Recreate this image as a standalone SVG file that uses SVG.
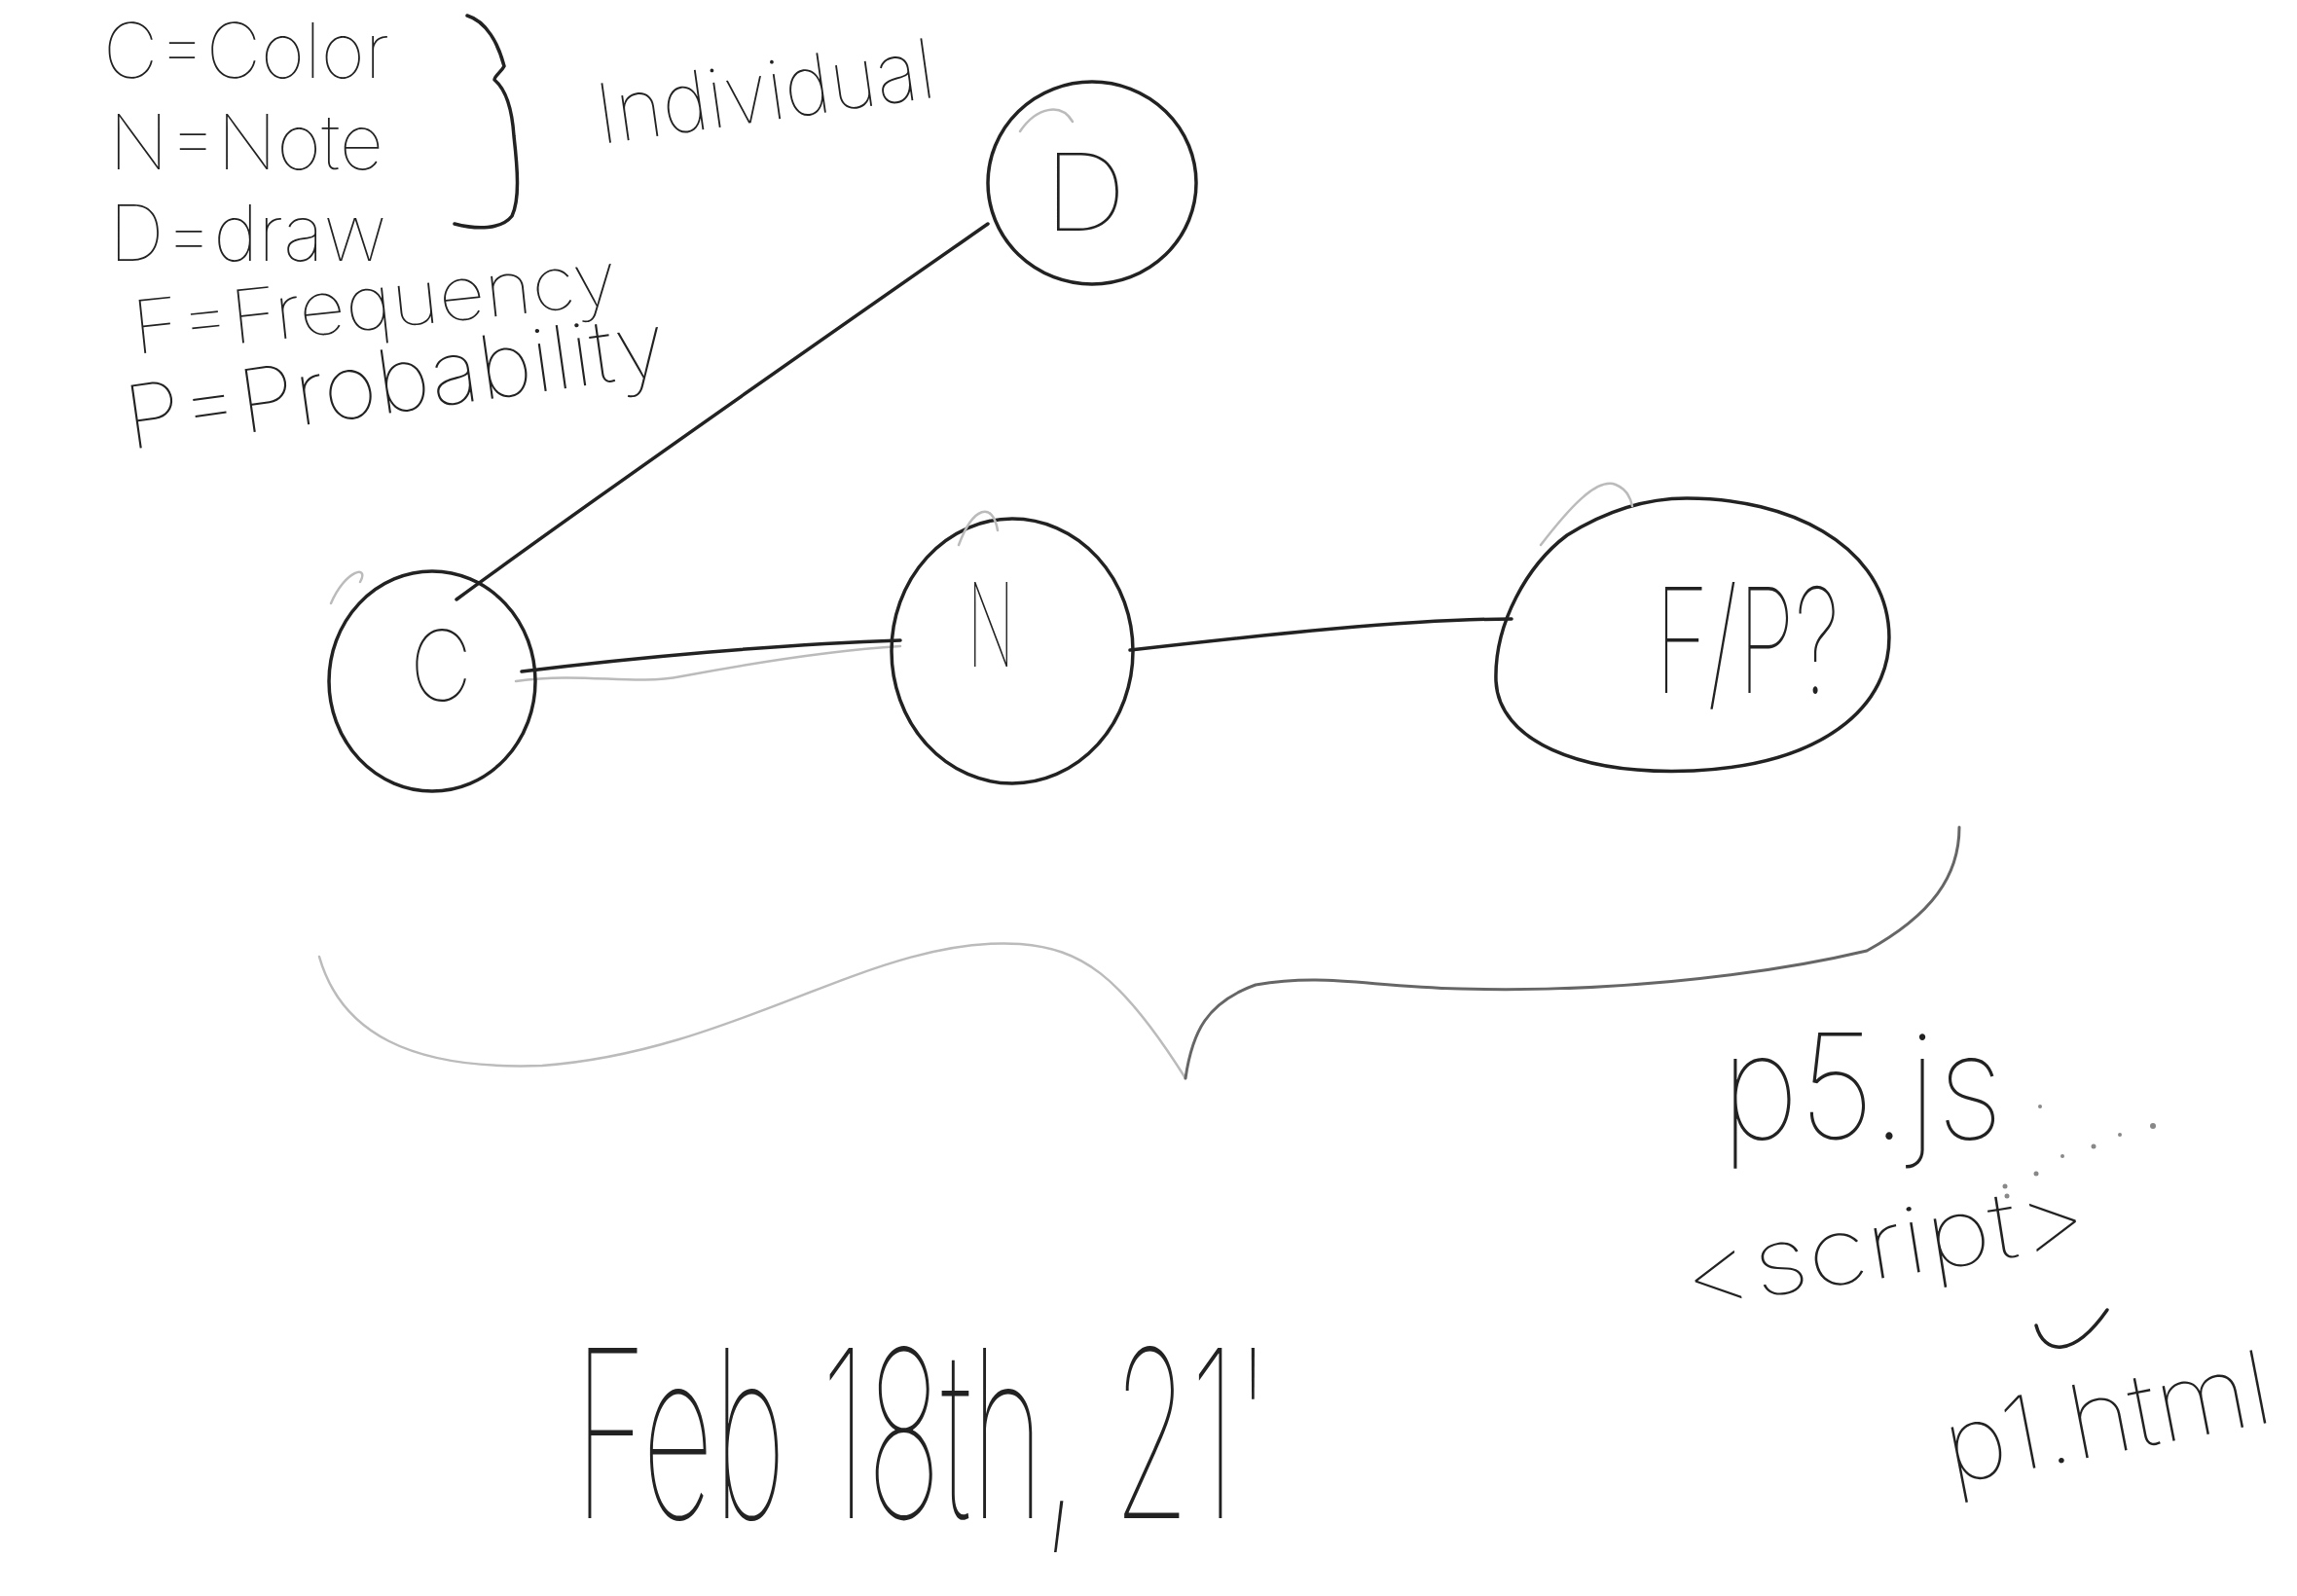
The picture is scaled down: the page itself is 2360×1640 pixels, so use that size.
<svg xmlns="http://www.w3.org/2000/svg" width="2360" height="1640" viewBox="0 0 2360 1640">
<style>
.ink{fill:none;stroke:#222;stroke-width:3.5;stroke-linecap:round;stroke-linejoin:round}
.faint{fill:none;stroke:#bbb;stroke-width:2.5;stroke-linecap:round}
.mid{fill:none;stroke:#666;stroke-width:3;stroke-linecap:round}
.hw{font-family:Inter,"Liberation Sans",sans-serif;font-weight:100;fill:#222}
</style>
<rect width="2360" height="1640" fill="#fff"/>
<g id="legend">
<text class="hw" x="106" y="80" font-size="78" textLength="294" lengthAdjust="spacingAndGlyphs">C=Color</text>
<text class="hw" x="112" y="174" font-size="78" textLength="282" lengthAdjust="spacingAndGlyphs">N=Note</text>
<text class="hw" x="112" y="268" font-size="80" textLength="285" lengthAdjust="spacingAndGlyphs">D=draw</text>
<text class="hw" x="139" y="364" font-size="76" textLength="500" lengthAdjust="spacingAndGlyphs" transform="rotate(-6 139 364)">F=Frequency</text>
<text class="hw" x="133" y="462" font-size="90" textLength="560" lengthAdjust="spacingAndGlyphs" transform="rotate(-8 133 462)">P=Probability</text>
<path class="ink" d="M480,16 C500,22 512,45 518,68 C515,74 508,78 508,82 C520,92 526,110 528,140 C532,175 534,205 526,222 C515,236 490,236 467,230"/>
<text class="hw" x="617" y="148" font-size="85" fill="#333" textLength="350" lengthAdjust="spacingAndGlyphs" transform="rotate(-8 617 148)">Individual</text>
</g>
<g id="connectors">
<path class="ink" d="M469,616 C620,505 850,345 1015,230"/>
<path class="ink" d="M536,690 C650,676 800,662 925,658"/>
<path class="faint" d="M530,700 C600,690 650,705 700,695 C780,680 860,668 925,664"/>
<path class="ink" d="M1161,668 C1300,652 1450,636 1553,636"/>
</g>
<g id="node-D">
<ellipse class="ink" cx="1122" cy="188" rx="107" ry="104"/>
<path class="faint" d="M1048,135 C1065,110 1090,105 1102,125"/>
<text class="hw" x="1115" y="237" font-size="110" text-anchor="middle" textLength="85" lengthAdjust="spacingAndGlyphs">D</text>
</g>
<g id="node-C">
<ellipse class="ink" cx="444" cy="700" rx="106" ry="113"/>
<path class="faint" d="M340,620 C355,585 380,580 370,598"/>
<text class="hw" x="453" y="720" font-size="100" text-anchor="middle" textLength="64" lengthAdjust="spacingAndGlyphs">C</text>
</g>
<g id="node-N">
<ellipse class="ink" cx="1040" cy="669" rx="124" ry="136"/>
<path class="faint" d="M985,560 C1000,520 1020,515 1025,545"/>
<text class="hw" x="1018" y="685" font-size="120" text-anchor="middle" textLength="48" lengthAdjust="spacingAndGlyphs">N</text>
</g>
<g id="node-FP">
<path class="ink" d="M1733,512 C1840,512 1930,560 1940,640 C1950,720 1880,785 1740,792 C1620,797 1540,760 1537,700 C1535,640 1570,580 1610,550 C1650,525 1690,512 1733,512 Z"/>
<path class="faint" d="M1583,560 C1610,525 1640,490 1660,498 C1670,502 1675,510 1677,520"/>
<text class="hw" x="1700" y="712" font-size="150" textLength="190" lengthAdjust="spacingAndGlyphs">F/P?</text>
</g>
<g id="brace">
<path class="faint" d="M328,983 C350,1060 420,1100 557,1095 C760,1080 900,960 1048,970 C1110,975 1150,1000 1218,1108"/>
<path class="mid" d="M1218,1108 C1225,1060 1240,1030 1290,1012 C1360,1000 1400,1013 1500,1016 C1640,1020 1800,1005 1918,977 C1985,940 2013,900 2013,850"/>
</g>
<g id="notes">
<text class="hw" x="1768" y="1170" font-size="150" fill="#999" textLength="290" lengthAdjust="spacingAndGlyphs">p5.js</text>
<g fill="#888">
<circle cx="2062" cy="1229" r="2.5"/><circle cx="2060" cy="1219" r="2.5"/><circle cx="2092" cy="1206" r="2.5"/>
<circle cx="2119" cy="1188" r="2"/><circle cx="2151" cy="1178" r="2.5"/><circle cx="2178" cy="1166" r="2"/>
<circle cx="2212" cy="1157" r="3"/><circle cx="2096" cy="1137" r="2"/>
</g>
<text class="hw" x="1734" y="1345" font-size="95" fill="#777" textLength="420" lengthAdjust="spacingAndGlyphs" transform="rotate(-9 1734 1345)">&lt;script&gt;</text>
<path class="ink" d="M2092,1362 C2100,1392 2130,1396 2165,1346"/>
<text class="hw" x="2005" y="1525" font-size="105" textLength="340" lengthAdjust="spacingAndGlyphs" transform="rotate(-11 2005 1525)">p1.html</text>
<text class="hw" x="590" y="1560" font-size="240" textLength="715" lengthAdjust="spacingAndGlyphs">Feb 18th, 21'</text>
</g>
</svg>
